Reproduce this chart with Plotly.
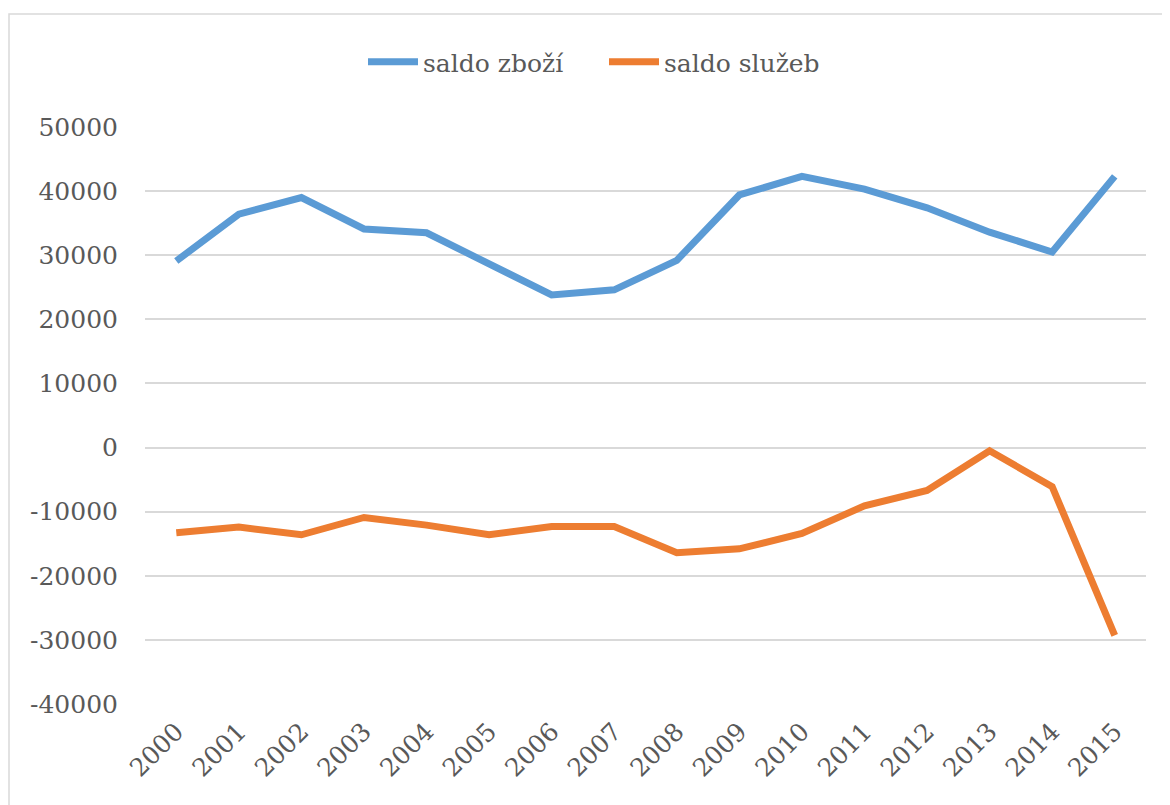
import plotly.graph_objects as go

years = ["2000", "2001", "2002", "2003", "2004", "2005", "2006", "2007",
         "2008", "2009", "2010", "2011", "2012", "2013", "2014", "2015"]
saldo_zbozi = [29100, 36400, 39000, 34100, 33500, 28800, 23800, 24600,
               29200, 39400, 42300, 40300, 37400, 33600, 30500, 42300]
saldo_sluzeb = [-13300, -12400, -13600, -10900, -12100, -13600, -12300, -12300,
                -16400, -15800, -13400, -9100, -6700, -500, -6100, -29300]
y_ticks = [-40000, -30000, -20000, -10000, 0, 10000, 20000, 30000, 40000, 50000]

FONT = "DejaVu Serif"
FS = 25
GREY = "#595959"

fig = go.Figure()
fig.add_trace(go.Scatter(x=years, y=saldo_zbozi, mode="lines", name="saldo zboží",
                         line=dict(color="#5B9BD5", width=7)))
fig.add_trace(go.Scatter(x=years, y=saldo_sluzeb, mode="lines", name="saldo služeb",
                         line=dict(color="#ED7D31", width=7)))

# the page body adds an 8px offset, so figure coords = screenshot coords - 8
OFF = 8
W, H = 1170, 805
L = 145 - OFF
T = 127 - OFF
R = W - (1146 - OFF)
B = H - (704 - OFF)
pw, ph = W - L - R, H - T - B

fig.update_layout(
    width=W, height=H,
    margin=dict(l=L, r=R, t=T, b=B, autoexpand=False),
    paper_bgcolor="white", plot_bgcolor="white",
    font=dict(family=FONT, size=FS, color=GREY),
    showlegend=True,
    legend=dict(orientation="h", x=(363 - OFF - L) / pw, xanchor="left",
                y=1 + (T - (62 - OFF)) / ph, yanchor="middle",
                font=dict(family=FONT, size=FS, color=GREY),
                itemwidth=50, entrywidth=176, entrywidthmode="pixels",
                bgcolor="rgba(0,0,0,0)"),
    xaxis=dict(type="category", range=[-0.5, 15.5], showgrid=False,
               showline=False, zeroline=False, ticks="", tickangle=-45,
               tickfont=dict(family=FONT, size=FS, color=GREY),
               ticklabelstandoff=7, fixedrange=True, automargin=False),
    yaxis=dict(range=[-40000, 50000], tickvals=y_ticks,
               ticktext=[str(v) for v in y_ticks],
               showgrid=True, gridcolor="#D9D9D9", gridwidth=1.5,
               zeroline=False, showline=False, ticks="",
               tickfont=dict(family=FONT, size=FS, color=GREY),
               ticklabelstandoff=26, fixedrange=True, automargin=False),
    shapes=[dict(type="rect", xref="paper", yref="paper",
                 x0=(8 - OFF - L + 1) / pw, x1=(W + 5 - L) / pw,
                 y0=-(B + 5) / ph, y1=1 + (T - (14 - OFF)) / ph,
                 line=dict(color="#D9D9D9", width=1.5), fillcolor="rgba(0,0,0,0)",
                 layer="below")],
)

fig.write_html("out.html")
